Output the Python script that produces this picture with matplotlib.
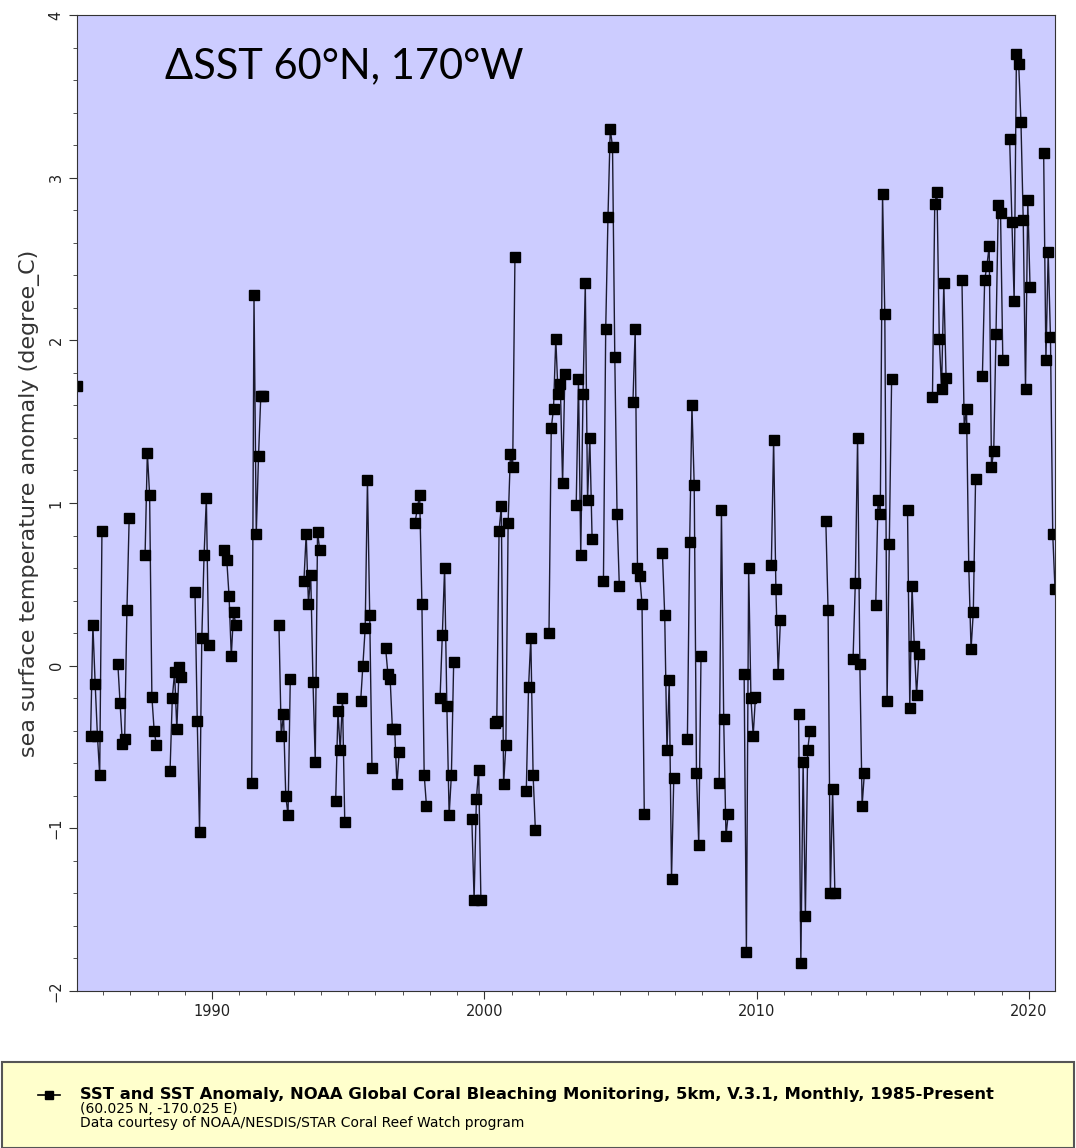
import numpy as np
import pandas as pd
import matplotlib
matplotlib.use('Agg')
import matplotlib.pyplot as plt
from matplotlib.lines import Line2D
from matplotlib.patches import Rectangle
from matplotlib.ticker import MultipleLocator

# 每段连续月份的起始月 + 海温异常值 (degree_C)，冬季海冰期无数据
seg_start = ['1985-01', '1985-07', '1986-07', '1987-07', '1988-06', '1989-05',
             '1990-06', '1991-06', '1992-06', '1993-05', '1994-07', '1995-06',
             '1996-05', '1997-06', '1998-05', '1999-07', '2000-05', '2001-07',
             '2002-05', '2003-05', '2004-05', '2005-06', '2006-07', '2007-06',
             '2008-08', '2009-07', '2010-07', '2011-07', '2012-07', '2013-07',
             '2014-05', '2015-07', '2016-06', '2017-07', '2018-04', '2019-04',
             '2020-07']
seg_values = [
    [1.72],
    [-0.43, 0.25, -0.11, -0.43, -0.67, 0.83],
    [0.01, -0.23, -0.48, -0.45, 0.34, 0.91],
    [0.68, 1.31, 1.05, -0.19, -0.40, -0.49],
    [-0.65, -0.20, -0.04, -0.39, -0.01, -0.07],
    [0.45, -0.34, -1.02, 0.17, 0.68, 1.03, 0.13],
    [0.71, 0.65, 0.43, 0.06, 0.33, 0.25],
    [-0.72, 2.28, 0.81, 1.29, 1.66, 1.66],
    [0.25, -0.43, -0.30, -0.80, -0.92, -0.08],
    [0.52, 0.81, 0.38, 0.56, -0.10, -0.59, 0.82, 0.71],
    [-0.83, -0.28, -0.52, -0.20, -0.96],
    [-0.22, 0.00, 0.23, 1.14, 0.31, -0.63],
    [0.11, -0.05, -0.08, -0.39, -0.39, -0.73, -0.53],
    [0.88, 0.97, 1.05, 0.38, -0.67, -0.86],
    [-0.20, 0.19, 0.60, -0.25, -0.92, -0.67, 0.02],
    [-0.94, -1.44, -0.82, -0.64, -1.44],
    [-0.35, -0.34, 0.83, 0.98, -0.73, -0.49, 0.88, 1.30, 1.22, 2.51],
    [-0.77, -0.13, 0.17, -0.67, -1.01],
    [0.20, 1.46, 1.58, 2.01, 1.67, 1.73, 1.12, 1.79],
    [0.99, 1.76, 0.68, 1.67, 2.35, 1.02, 1.40, 0.78],
    [0.52, 2.07, 2.76, 3.30, 3.19, 1.90, 0.93, 0.49],
    [1.62, 2.07, 0.60, 0.55, 0.38, -0.91],
    [0.69, 0.31, -0.52, -0.09, -1.31, -0.69],
    [-0.45, 0.76, 1.60, 1.11, -0.66, -1.10, 0.06],
    [-0.72, 0.96, -0.33, -1.05, -0.91],
    [-0.05, -1.76, 0.60, -0.20, -0.43, -0.19],
    [0.62, 1.39, 0.47, -0.05, 0.28],
    [-0.30, -1.83, -0.59, -1.54, -0.52, -0.40],
    [0.89, 0.34, -1.40, -0.76, -1.40],
    [0.04, 0.51, 1.40, 0.01, -0.86, -0.66],
    [0.37, 1.02, 0.93, 2.90, 2.16, -0.22, 0.75, 1.76],
    [0.96, -0.26, 0.49, 0.12, -0.18, 0.07],
    [1.65, 2.84, 2.91, 2.01, 1.70, 2.35, 1.77],
    [2.37, 1.46, 1.58, 0.61, 0.10, 0.33, 1.15],
    [1.78, 2.37, 2.46, 2.58, 1.22, 1.32, 2.04, 2.83, 2.78, 1.88],
    [3.24, 2.73, 2.24, 3.76, 3.70, 3.34, 2.74, 1.70, 2.86, 2.33],
    [3.15, 1.88, 2.54, 2.02, 0.81, 0.47],
]
x_ticks = [1990, 2000, 2010, 2020]
y_ticks = [-2, -1, 0, 1, 2, 3, 4]

# 月序列，缺测月份为 NaN，这样线段在缺测处断开
months = pd.period_range('1985-01', '2020-12', freq='M')
sst = pd.Series(np.nan, index=months)
for start, vals in zip(seg_start, seg_values):
    p = pd.Period(start, freq='M')
    for i, v in enumerate(vals):
        sst[p + i] = v
t = months.year + (months.month - 0.5) / 12.0

fig = plt.figure(figsize=(10.76, 11.48), dpi=100)
ax = fig.add_axes([77 / 1076, 1 - 991 / 1148, 978 / 1076, 976 / 1148])
ax.set_facecolor('#ccccff')
ax.plot(t, sst.values, color='#1a1a2e', lw=1.0, marker='s', ms=6.5,
        mfc='black', mec='black')
ax.set_xlim(t[0], t[-1])
ax.set_ylim(-2, 4)
ax.set_xticks(x_ticks)
ax.set_yticks(y_ticks)
ax.xaxis.set_minor_locator(MultipleLocator(1))
ax.yaxis.set_minor_locator(MultipleLocator(0.2))
ax.tick_params(which='major', length=6, labelsize=10.5, color='#333333',
               labelcolor='#222222')
ax.tick_params(which='minor', length=3, color='#333333')
for lab in ax.get_yticklabels():
    lab.set_rotation(90)
    lab.set_va('center')
for s in ax.spines.values():
    s.set_color('#333333')
ax.set_ylabel('sea surface temperature anomaly (degree_C)', fontsize=16,
              color='#333333', labelpad=6)

ax.text(0.09, 0.935, '\u0394SST 60\u00b0N, 170\u00b0W', transform=ax.transAxes,
        fontsize=30, family=['Lato', 'DejaVu Sans'], color='black')

# 下方图例框
fig.patches.append(Rectangle((2 / 1076, 0), 1072 / 1076, 86 / 1148,
                             transform=fig.transFigure, facecolor='#ffffcc',
                             edgecolor='#555555', lw=1.5))
fig.lines.append(Line2D([38 / 1076, 49 / 1076, 60 / 1076], [1 - 1095 / 1148] * 3,
                        transform=fig.transFigure, color='black', lw=1.2,
                        marker='s', ms=6, markevery=[1]))
fig.text(80 / 1076, 1 - 1095 / 1148,
         'SST and SST Anomaly, NOAA Global Coral Bleaching Monitoring, 5km, V.3.1, Monthly, 1985-Present',
         fontsize=11.8, weight='bold', va='center', color='black')
fig.text(80 / 1076, 1 - 1109 / 1148, '(60.025 N, -170.025 E)',
         fontsize=10, va='center', color='black')
fig.text(80 / 1076, 1 - 1123 / 1148,
         'Data courtesy of NOAA/NESDIS/STAR Coral Reef Watch program',
         fontsize=10, va='center', color='black')

fig.savefig('out.png', dpi=100)
